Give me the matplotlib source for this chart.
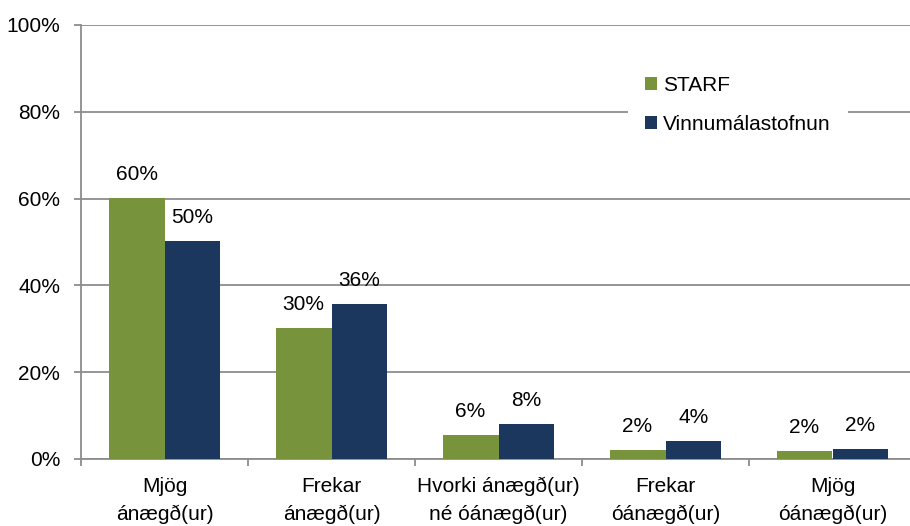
import numpy as np
import matplotlib
matplotlib.use("Agg")
import matplotlib.pyplot as plt

plt.rcParams['font.family'] = ['Liberation Sans', 'DejaVu Sans']

categories = ["Mjög\nánægð(ur)", "Frekar\nánægð(ur)", "Hvorki ánægð(ur)\nné óánægð(ur)",
              "Frekar\nóánægð(ur)", "Mjög\nóánægð(ur)"]
starf = [60.1, 30.2, 5.5, 2.1, 1.9]
vinnumal = [50.2, 35.7, 8.1, 4.1, 2.3]
series_names = ["STARF", "Vinnumálastofnun"]
yticks = [0, 20, 40, 60, 80, 100]

green = "#77933C"
navy = "#1B375E"
gray = "#8C8C8C"
fs = 15

fig = plt.figure(figsize=(9.10, 5.26), dpi=100)
ax = fig.add_axes([81 / 910, 67 / 526, 835 / 910, 434 / 526])

x = np.arange(len(categories)) + 0.5
w = 0.335
b1 = ax.bar(x - w / 2, starf, w, color=green, label=series_names[0], zorder=3)
b2 = ax.bar(x + w / 2, vinnumal, w, color=navy, label=series_names[1], zorder=3)

for bars, vals in ((b1, starf), (b2, vinnumal)):
    for r, v in zip(bars, vals):
        ax.annotate(f"{v:.0f}%", (r.get_x() + r.get_width() / 2, v),
                    xytext=(0, 10), textcoords="offset points",
                    ha="center", va="bottom", fontsize=fs)

ax.set_xlim(0, len(categories))
ax.set_ylim(0, 100)
ax.set_yticks(yticks)
ax.set_yticklabels([f"{t}%" for t in yticks], fontsize=fs)
ax.yaxis.grid(True, color=gray, linewidth=1.3, zorder=0)

ax.set_xticks(np.arange(len(categories) + 1))
ax.set_xticklabels([])
ax.set_xticks(x, minor=True)
ax.set_xticklabels(categories, minor=True, fontsize=fs, linespacing=1.55)
ax.tick_params(axis="x", which="minor", length=0, pad=13)
ax.tick_params(axis="x", which="major", length=5, width=1.3, color=gray)
ax.tick_params(axis="y", length=5, width=1.3, color=gray, pad=10)

for s in ("top", "right"):
    ax.spines[s].set_visible(False)
for s in ("left", "bottom"):
    ax.spines[s].set_color(gray)
    ax.spines[s].set_linewidth(1.3)

leg = ax.legend(loc="upper left", bbox_to_anchor=(0.6425, 0.945), fontsize=fs,
                frameon=True, fancybox=False, handlelength=0.6, handleheight=0.6,
                handletextpad=0.3, labelspacing=0.95, borderpad=0.8)
leg.get_frame().set_facecolor("white")
leg.get_frame().set_edgecolor("none")
leg.get_frame().set_alpha(1)

fig.savefig("out.png", dpi=100)
